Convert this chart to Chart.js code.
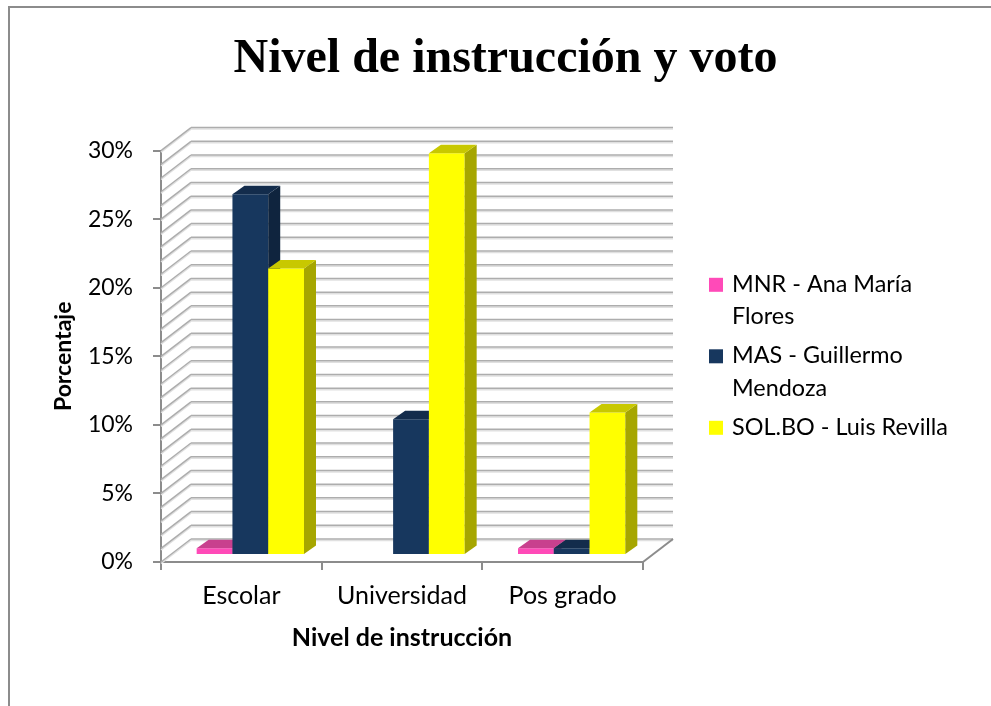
<!DOCTYPE html>
<html lang="es">
<head>
<meta charset="UTF-8">
<title>Nivel de instrucción y voto</title>
<script src="https://cdn.jsdelivr.net/npm/chart.js@4"></script>
<style>
    body { margin: 0; background: #fff; }
    .frame {
        position: absolute; left: 8px; top: 6px;
        width: 1200px; height: 900px;
        border-left: 2px solid #8c8c8c; border-top: 2px solid #8c8c8c;
    }
    canvas { position: absolute; left: 0; top: 0; }
</style>
</head>
<body>
<div class="frame"></div>
<canvas id="chart" width="991" height="706"></canvas>
<script>
// data (percent)
const categories = ["Escolar", "Universidad", "Pos grado"];
const seriesNames = ["MNR - Ana María Flores", "MAS - Guillermo Mendoza", "SOL.BO - Luis Revilla"];
const mnrValues = [0.5, 0, 0.5];
const masValues = [26.3, 9.9, 0.5];
const solValues = [20.9, 29.3, 10.4];
const yMax = 30;
const yStep = 5;

// colours: front / side / top face
const pink = ["#ff4ab8", "#b8357f", "#c8408e"];
const navy = ["#17375e", "#0f243e", "#132c4c"];
const yellow = ["#ffff00", "#a6a600", "#c8c800"];

const AXIS = "#8c8c8c";
const GRID = "#adadad";
const GRID_LIGHT = "#e0e0e0";

const depth = { dx: 30, dy: -23 };      // front axis -> back wall
const plane = { dx: 9, dy: -7 };        // where the bars stand
const barDepth = { dx: 12, dy: -8.5 };  // thickness of a bar

function gridLine(ctx, x1, y1, x2, y2) {
    ctx.lineWidth = 1.5;
    ctx.strokeStyle = GRID_LIGHT;
    ctx.beginPath(); ctx.moveTo(x1, y1 + 1.5); ctx.lineTo(x2, y2 + 1.5); ctx.stroke();
    ctx.strokeStyle = GRID;
    ctx.beginPath(); ctx.moveTo(x1, y1); ctx.lineTo(x2, y2); ctx.stroke();
}

function poly(ctx, pts, color) {
    ctx.fillStyle = color;
    ctx.beginPath();
    ctx.moveTo(pts[0][0], pts[0][1]);
    for (let i = 1; i < pts.length; i++) ctx.lineTo(pts[i][0], pts[i][1]);
    ctx.closePath();
    ctx.fill();
}

function wrapText(ctx, text, maxWidth) {
    const words = text.split(" ");
    const lines = [];
    let line = "";
    words.forEach(w => {
        const test = line ? line + " " + w : w;
        if (line && ctx.measureText(test).width > maxWidth) {
            lines.push(line);
            line = w;
        } else {
            line = test;
        }
    });
    lines.push(line);
    return lines;
}

// back wall, left wall, floor edge and the bars with their 3d faces
const fake3d = {
    id: "fake3d",
    beforeDatasetsDraw(chart) {
        const { ctx, chartArea, scales } = chart;
        const y = scales.y;
        ctx.save();
        for (let v = y.min; v <= y.max; v++) {
            const py = y.getPixelForValue(v);
            gridLine(ctx, chartArea.left, py, chartArea.left + depth.dx, py + depth.dy);
            gridLine(ctx, chartArea.left + depth.dx, py + depth.dy, chartArea.right + depth.dx, py + depth.dy);
        }
        ctx.strokeStyle = AXIS;
        ctx.lineWidth = 2;
        ctx.beginPath();
        ctx.moveTo(chartArea.right, chartArea.bottom);
        ctx.lineTo(chartArea.right + depth.dx, chartArea.bottom + depth.dy);
        ctx.stroke();
        ctx.restore();
    },
    // the bars are painted below, left to right, so each one hides the side of its neighbour
    beforeDatasetDraw() {
        return false;
    },
    afterDatasetsDraw(chart) {
        const ctx = chart.ctx;
        ctx.save();
        ctx.translate(plane.dx, plane.dy);
        chart.data.datasets.forEach((ds, i) => {
            chart.getDatasetMeta(i).data.forEach(bar => {
                const p = bar.getProps(["x", "y", "base", "width"], true);
                if (Math.abs(p.base - p.y) < 0.5) return;
                bar.draw(ctx);
                const l = p.x - p.width / 2, r = p.x + p.width / 2;
                const t = Math.min(p.y, p.base), b = Math.max(p.y, p.base);
                const dx = barDepth.dx, dy = barDepth.dy;
                poly(ctx, [[r, t], [r + dx, t + dy], [r + dx, b + dy], [r, b]], ds.sideColor);
                poly(ctx, [[l, t], [l + dx, t + dy], [r + dx, t + dy], [r, t]], ds.topColor);
            });
        });
        ctx.restore();
    }
};

const sideLegend = {
    id: "sideLegend",
    afterDraw(chart) {
        const { ctx, chartArea } = chart;
        ctx.save();
        ctx.font = "23.4px Lato";
        ctx.textBaseline = "alphabetic";
        const box = 14, lineH = 32.5, gap = 39;
        const items = chart.data.datasets.map(ds => ({ color: ds.backgroundColor, lines: wrapText(ctx, ds.label, 225) }));
        let span = 0;
        items.forEach((it, i) => { span += (it.lines.length - 1) * lineH + (i < items.length - 1 ? gap : 0); });
        const mid = (chartArea.top + chartArea.bottom) / 2;
        let base = mid - (span + box) / 2 + box;
        const x = chartArea.right + 66;
        items.forEach(it => {
            ctx.fillStyle = it.color;
            ctx.fillRect(x, base - box, box, box);
            ctx.fillStyle = "#000";
            it.lines.forEach((ln, j) => {
                ctx.fillText(ln, x + 23, base);
                if (j < it.lines.length - 1) base += lineH;
            });
            base += gap;
        });
        ctx.restore();
    }
};

new Chart(document.getElementById("chart"), {
    type: "bar",
    data: {
        labels: categories,
        datasets: [
            { label: seriesNames[0], data: mnrValues, backgroundColor: pink[0], sideColor: pink[1], topColor: pink[2] },
            { label: seriesNames[1], data: masValues, backgroundColor: navy[0], sideColor: navy[1], topColor: navy[2] },
            { label: seriesNames[2], data: solValues, backgroundColor: yellow[0], sideColor: yellow[1], topColor: yellow[2] }
        ].map(ds => Object.assign(ds, { borderWidth: 0, categoryPercentage: 0.668, barPercentage: 1, clip: false }))
    },
    options: {
        responsive: false,
        animation: false,
        events: [],
        layout: { padding: { left: 20, right: 0, top: 0, bottom: 0 } },
        plugins: {
            legend: { display: false },
            tooltip: { enabled: false },
            title: {
                display: true,
                text: "Nivel de instrucción y voto",
                color: "#000",
                font: { family: "'Liberation Serif', 'Times New Roman', serif", size: 48, weight: "bold" },
                padding: { top: 31, bottom: 62 }
            }
        },
        scales: {
            x: {
                grid: { drawOnChartArea: false, tickLength: 8, color: AXIS, lineWidth: 2 },
                border: { color: AXIS, width: 2 },
                ticks: { color: "#000", font: { family: "Lato", size: 25 }, padding: 11 },
                title: {
                    display: true, text: "Nivel de instrucción", color: "#000",
                    font: { family: "Lato", size: 25, weight: "bold" },
                    padding: { top: 0, bottom: 53.5 }
                },
                afterFit(s) { s.height = 144; }
            },
            y: {
                min: 0, max: yMax,
                grid: { drawOnChartArea: false, tickLength: 8, color: AXIS, lineWidth: 2 },
                border: { color: AXIS, width: 2 },
                ticks: { stepSize: yStep, color: "#000", font: { family: "Lato", size: 23 }, padding: 20, callback: v => v + "%" },
                title: {
                    display: true, text: "Porcentaje", color: "#000",
                    font: { family: "Lato", size: 23, weight: "bold" },
                    padding: { top: 30, bottom: 0 }
                },
                afterFit(s) { s.width = 141; }
            },
            legendSpace: {
                type: "linear", axis: "y", position: "right", display: true,
                grid: { display: false }, border: { display: false }, ticks: { display: false },
                afterFit(s) { s.width = 348; }
            }
        }
    },
    plugins: [fake3d, sideLegend]
});
</script>
</body>
</html>
